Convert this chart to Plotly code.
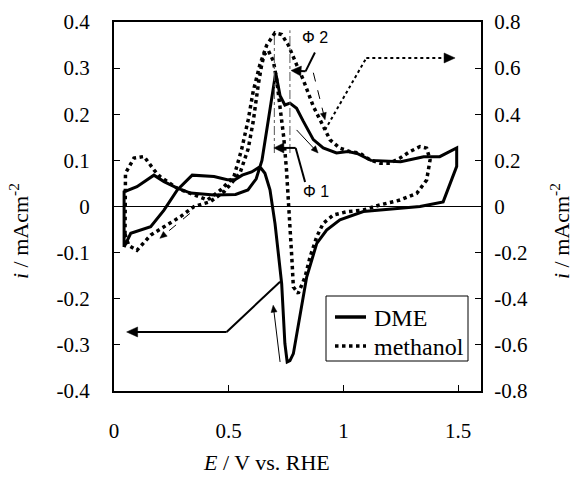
import math
import plotly.graph_objects as go

# ---------------- data ----------------
dme_E = [0.044, 0.044, 0.10, 0.174, 0.218, 0.276, 0.334, 0.436, 0.530, 0.584, 0.620, 0.645, 0.673,
         0.705, 0.724, 0.745, 0.767, 0.796, 0.825, 0.869, 0.912, 0.970, 1.020, 1.060, 1.120, 1.250,
         1.350, 1.420, 1.494,
         1.494, 1.435, 1.334, 1.087, 0.985, 0.927, 0.884, 0.840, 0.803, 0.782, 0.767, 0.755, 0.745,
         0.731, 0.702, 0.680, 0.658, 0.636, 0.600, 0.559, 0.527, 0.494, 0.436, 0.341, 0.276, 0.218,
         0.160, 0.073, 0.044]
dme_i = [-0.088, 0.032, 0.043, 0.068, 0.054, 0.040, 0.029, 0.025, 0.026, 0.036, 0.060, 0.100, 0.188,
         0.290, 0.240, 0.220, 0.224, 0.213, 0.185, 0.145, 0.127, 0.116, 0.119, 0.115, 0.100, 0.097,
         0.108, 0.108, 0.127,
         0.087, 0.010, 0.000, -0.011, -0.029, -0.051, -0.080, -0.153, -0.254, -0.319, -0.334, -0.337,
         -0.297, -0.167, -0.037, 0.036, 0.072, 0.086, 0.075, 0.068, 0.058, 0.058, 0.065, 0.068, 0.036,
         -0.008, -0.044, -0.058, -0.088]

meoh_E = [0.048, 0.050, 0.087, 0.131, 0.174, 0.200, 0.276, 0.349, 0.407, 0.465, 0.523, 0.557, 0.585,
          0.607, 0.636, 0.666, 0.702, 0.731, 0.760, 0.796, 0.825, 0.869, 0.912, 0.942, 0.985, 1.029,
          1.072, 1.116, 1.160, 1.203, 1.247, 1.290, 1.334, 1.363, 1.378,
          1.363, 1.320, 1.247, 1.160, 1.087, 1.014, 0.956, 0.912, 0.884, 0.855, 0.833, 0.803, 0.782,
          0.775, 0.762, 0.752, 0.740, 0.726, 0.709, 0.695, 0.673, 0.655, 0.644, 0.629, 0.607, 0.585,
          0.549, 0.480, 0.420, 0.349, 0.290, 0.218, 0.160, 0.100, 0.065, 0.048]
meoh_i = [-0.120, 0.144, 0.210, 0.217, 0.159, 0.130, 0.079, 0.050, 0.028, 0.072, 0.130, 0.250, 0.376,
          0.500, 0.615, 0.700, 0.753, 0.746, 0.700, 0.615, 0.550, 0.434, 0.347, 0.289, 0.253, 0.238,
          0.231, 0.202, 0.188, 0.188, 0.210, 0.238, 0.260, 0.253, 0.202,
          0.115, 0.057, 0.028, 0.007, -0.015, -0.023, -0.037, -0.073, -0.131, -0.218, -0.305, -0.377,
          -0.349, -0.218, 0.000, 0.159, 0.300, 0.420, 0.550, 0.630, 0.676, 0.659, 0.615, 0.528, 0.369,
          0.250, 0.144, 0.064, 0.021, 0.000, -0.044, -0.088, -0.124, -0.190, -0.170, -0.120]

series_names = ["DME", "methanol"]
x_tickvals = [0, 0.5, 1, 1.5]
x_ticktext = ["0", "0.5", "1", "1.5"]
y_tickvals = [-0.4, -0.3, -0.2, -0.1, 0, 0.1, 0.2, 0.3, 0.4]
y_ticktext = ["-0.4", "-0.3", "-0.2", "-0.1", "0", "0.1", "0.2", "0.3", "0.4"]
y2_tickvals = [-0.8, -0.6, -0.4, -0.2, 0, 0.2, 0.4, 0.6, 0.8]
y2_ticktext = ["-0.8", "-0.6", "-0.4", "-0.2", "0", "0.2", "0.4", "0.6", "0.8"]

SERIF = "Liberation Serif"
SANS = "Liberation Sans"

FIG_W, FIG_H = 576, 477
ML, MT = 114, 22
PLOT_W, PLOT_H = 367, 369
X_RANGE = [0, 1.6]
Y_RANGE = [-0.4, 0.4]
SX = PLOT_W / (X_RANGE[1] - X_RANGE[0])
SY = PLOT_H / (Y_RANGE[1] - Y_RANGE[0])

fig = go.Figure()
fig.add_trace(go.Scatter(x=dme_E, y=dme_i, mode="lines", name=series_names[0],
                         line=dict(color="black", width=3), showlegend=False))
fig.add_trace(go.Scatter(x=meoh_E, y=meoh_i, mode="lines", name=series_names[1], yaxis="y2",
                         line=dict(color="black", width=3.5, dash="dot"), showlegend=False))

shapes = []
ann = []

def paper(px, py):
    return (px - ML) / PLOT_W, (MT + PLOT_H - py) / PLOT_H

def seg(x0, y0, x1, y1, width=2, dash="solid", color="black"):
    shapes.append(dict(type="line", xref="x", yref="y", x0=x0, y0=y0, x1=x1, y1=y1,
                       line=dict(color=color, width=width, dash=dash)))

def arrow(xt, yt, xh, yh, width=2, L=11, W=5, dash="solid"):
    dx, dy = (xh - xt) * SX, (yh - yt) * SY
    n = math.hypot(dx, dy)
    ux, uy = dx / n, dy / n
    bx, by = xh - L * ux / SX, yh - L * uy / SY
    c1 = (bx + W * (-uy) / SX, by + W * ux / SY)
    c2 = (bx - W * (-uy) / SX, by - W * ux / SY)
    seg(xt, yt, xh - (L - 1) * ux / SX, yh - (L - 1) * uy / SY, width=width, dash=dash)
    shapes.append(dict(type="path", xref="x", yref="y",
                       path=f"M {xh},{yh} L {c1[0]},{c1[1]} L {c2[0]},{c2[1]} Z",
                       fillcolor="black", line=dict(color="black", width=0.5)))

# vertical dash-dot markers
seg(0.699, 0.116, 0.699, 0.372, width=1, dash="dashdot", color="#555")
seg(0.767, 0.116, 0.767, 0.382, width=1, dash="dashdot", color="#555")

# solid arrow to left axis (DME)
seg(0.724, -0.163, 0.491, -0.272, width=2)
arrow(0.491, -0.272, 0.055, -0.272, width=2)

# dotted arrow to right axis (methanol)
seg(0.920, 0.166, 1.100, 0.322, width=2, dash="dot")
arrow(1.100, 0.322, 1.487, 0.322, width=2, dash="dot")

# Phi 2 arrow
seg(0.876, 0.334, 0.835, 0.293, width=2)
arrow(0.835, 0.293, 0.772, 0.295, width=2, L=10, W=5)
# Phi 1 arrow
seg(0.833, 0.053, 0.792, 0.127, width=2)
arrow(0.792, 0.127, 0.697, 0.127, width=2, L=10, W=5)

# thin direction arrows
arrow(0.869, 0.290, 0.920, 0.188, width=1, L=7, W=3, dash="dash")
arrow(0.796, 0.166, 0.890, 0.116, width=1, L=7, W=3)
arrow(0.331, -0.015, 0.200, -0.069, width=1, L=7, W=3, dash="dash")
arrow(0.724, -0.337, 0.694, -0.214, width=1, L=7, W=3)

# Phi labels
ann.append(dict(x=0.876, y=0.366, xref="x", yref="y", text="Φ 2", showarrow=False,
                font=dict(family=SANS, size=16, color="black")))
ann.append(dict(x=0.881, y=0.0315, xref="x", yref="y", text="Φ 1", showarrow=False,
                font=dict(family=SANS, size=16, color="black")))

# axis titles
tx, ty = paper(266.5, 462)
ann.append(dict(x=tx, y=ty, xref="paper", yref="paper", xanchor="center", yanchor="middle",
                showarrow=False, text="<i>E</i> / V vs. RHE",
                font=dict(family=SERIF, size=22, color="black")))
lx, ly = paper(19, 231)
ann.append(dict(x=lx, y=ly, xref="paper", yref="paper", xanchor="center", yanchor="middle",
                showarrow=False, textangle=-90, text="<i>i</i> / mAcm<sup>-2</sup>",
                font=dict(family=SERIF, size=22, color="black")))
rx, ry = paper(560, 231)
ann.append(dict(x=rx, y=ry, xref="paper", yref="paper", xanchor="center", yanchor="middle",
                showarrow=False, textangle=-90, text="<i>i</i> / mAcm<sup>-2</sup>",
                font=dict(family=SERIF, size=22, color="black")))

# legend box (drawn in paper coordinates)
bx0, by0 = paper(326, 296)
bx1, by1 = paper(468, 361)
shapes.append(dict(type="rect", xref="paper", yref="paper", x0=bx0, y0=by1, x1=bx1, y1=by0,
                   fillcolor="white", line=dict(color="black", width=1)))
for name, dash, w, py in [(series_names[0], "solid", 3.5, 317),
                          (series_names[1], "dot", 3.5, 346)]:
    sx0, sy = paper(335, py)
    sx1, _ = paper(366, py)
    shapes.append(dict(type="line", xref="paper", yref="paper", x0=sx0, y0=sy, x1=sx1, y1=sy,
                       line=dict(color="black", width=w, dash=dash)))
    txx, tyy = paper(372, py + 1)
    ann.append(dict(x=txx, y=tyy, xref="paper", yref="paper", xanchor="left", yanchor="middle",
                    showarrow=False, text=name, font=dict(family=SERIF, size=24, color="black")))

fig.update_layout(
    width=FIG_W, height=FIG_H,
    margin=dict(l=ML, r=FIG_W - ML - PLOT_W, t=MT, b=FIG_H - MT - PLOT_H, autoexpand=False),
    paper_bgcolor="white", plot_bgcolor="white",
    font=dict(family=SERIF, size=21, color="black"),
    shapes=shapes, annotations=ann,
    showlegend=False,
    xaxis=dict(range=X_RANGE, tickvals=x_tickvals, ticktext=x_ticktext, ticks="inside",
               ticklen=6, tickcolor="black", showline=True, linecolor="black", linewidth=2,
               mirror=True, showgrid=False, zeroline=False, ticklabelstandoff=20,
               automargin=False),
    yaxis=dict(range=Y_RANGE, tickvals=y_tickvals, ticktext=y_ticktext, ticks="inside",
               ticklen=6, tickcolor="black", showline=True, linecolor="black", linewidth=2,
               showgrid=False, zeroline=True, zerolinecolor="black", zerolinewidth=1,
               ticklabelstandoff=18, automargin=False),
    yaxis2=dict(range=[-0.8, 0.8], tickvals=y2_tickvals, ticktext=y2_ticktext, ticks="inside",
                ticklen=6, tickcolor="black", showline=True, linecolor="black", linewidth=2,
                overlaying="y", side="right", showgrid=False, zeroline=False,
                ticklabelstandoff=7, automargin=False),
)

fig.write_html("out.html", config={"displayModeBar": False},
               post_script="document.body.style.margin='0px';document.body.style.overflow='hidden';")
